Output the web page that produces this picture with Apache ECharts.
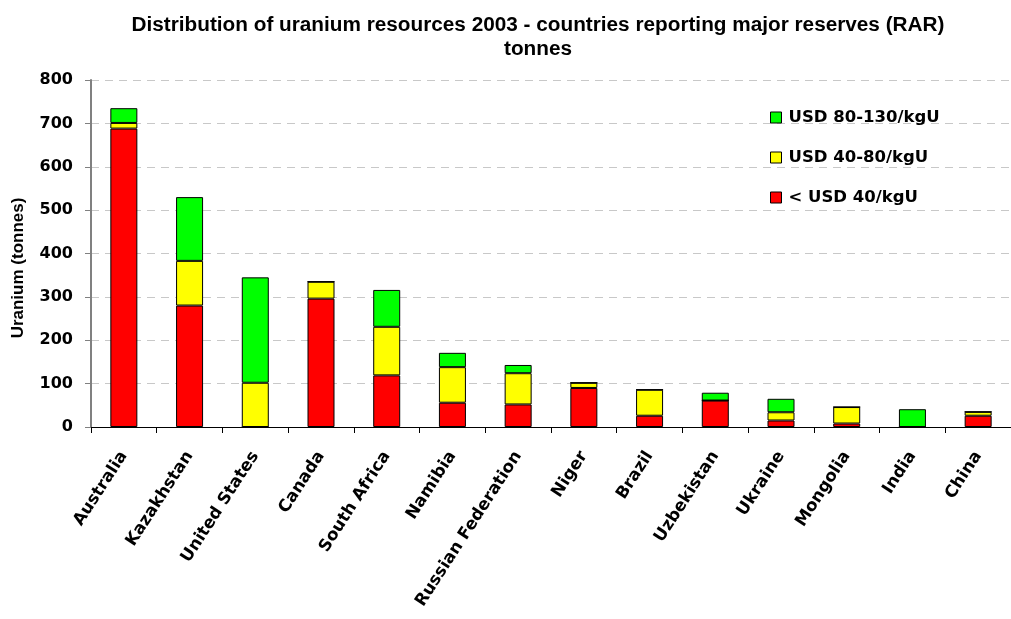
<!DOCTYPE html>
<html>
<head>
<meta charset="utf-8">
<script src="https://cdn.jsdelivr.net/npm/echarts@6/dist/echarts.min.js"></script>
<style>html,body{margin:0;padding:0;background:#fff}#c{width:1011px;height:619px}</style>
</head>
<body>
<div id="c"></div>
<script>
const categories = ["Australia","Kazakhstan","United States","Canada","South Africa","Namibia","Russian Federation","Niger","Brazil","Uzbekistan","Ukraine","Mongolia","India","China"];
const below40 = [688, 280, 0, 296, 119, 56, 52, 90, 26, 61, 15, 8, 0, 26];
const from40to80 = [13, 103, 102, 39, 112, 82, 72, 12, 60, 0, 19, 38, 0, 9];
const from80to130 = [34, 147, 243, 0, 85, 33, 19, 0, 0, 18, 31, 0, 41, 0];
const seriesNames = ["< USD 40/kgU", "USD 40-80/kgU", "USD 80-130/kgU"];
const yTicks = [0, 100, 200, 300, 400, 500, 600, 700, 800];
const yAxisTitle = 'Uranium (tonnes)';

const font = '"Liberation Sans", Arial, sans-serif';
const wide = '"DejaVu Sans", sans-serif';
const chart = echarts.init(document.getElementById('c'), null, {renderer: 'canvas'});
function mk(name, data, color) {
  return {
    name, type: 'bar', stack: 'u', data, barWidth: 27,
    itemStyle: {color, borderColor: '#000', borderWidth: 1}
  };
}
chart.setOption({
  animation: false,
  title: {
    text: 'Distribution of uranium resources 2003 - countries reporting major reserves (RAR)\ntonnes',
    left: 533, top: 8, textAlign: 'center',
    textStyle: {fontFamily: font, fontWeight: 'bold', fontSize: 20.75, lineHeight: 24, color: '#000'}
  },
  graphic: [{
    type: 'text', x: 18, y: 268, rotation: Math.PI / 2,
    style: {text: yAxisTitle, fontFamily: font, fontWeight: 'bold', fontSize: 17, fill: '#000', align: 'center', verticalAlign: 'middle'}
  }],
  legend: {
    orient: 'vertical', left: 765, top: 104, itemGap: 23,
    data: [seriesNames[2], seriesNames[1], seriesNames[0]],
    icon: 'rect', itemWidth: 11, itemHeight: 11, itemStyle: {borderColor: '#000', borderWidth: 1},
    textStyle: {fontFamily: wide, fontWeight: 'bold', fontSize: 16.5, color: '#000', padding: [0,0,0,2]}
  },
  grid: {left: 91, top: 80, width: 929, height: 347, containLabel: false},
  xAxis: {
    type: 'category', data: categories,
    axisLine: {lineStyle: {color: '#000', width: 1}},
    axisTick: {show: true, length: 6, lineStyle: {color: '#000'}},
    axisLabel: {rotate: 57, fontFamily: wide, fontWeight: 'bold', fontSize: 16.7, color: '#000', margin: 26, interval: 0}
  },
  yAxis: {
    type: 'value', min: yTicks[0], max: yTicks[yTicks.length-1], interval: 100,
    axisLine: {show: true, lineStyle: {color: '#808080', width: 2}},
    axisTick: {show: true, length: 6, lineStyle: {color: '#808080'}},
    axisLabel: {fontFamily: wide, fontWeight: 'bold', fontSize: 16, color: '#000', margin: 18},
    splitLine: {lineStyle: {color: '#c8c8c8', type: [8, 6], width: 1}}
  },
  series: [
    mk(seriesNames[0], below40, '#FF0000'),
    mk(seriesNames[1], from40to80, '#FFFF00'),
    mk(seriesNames[2], from80to130, '#00FF00')
  ]
});
</script>
</body>
</html>
